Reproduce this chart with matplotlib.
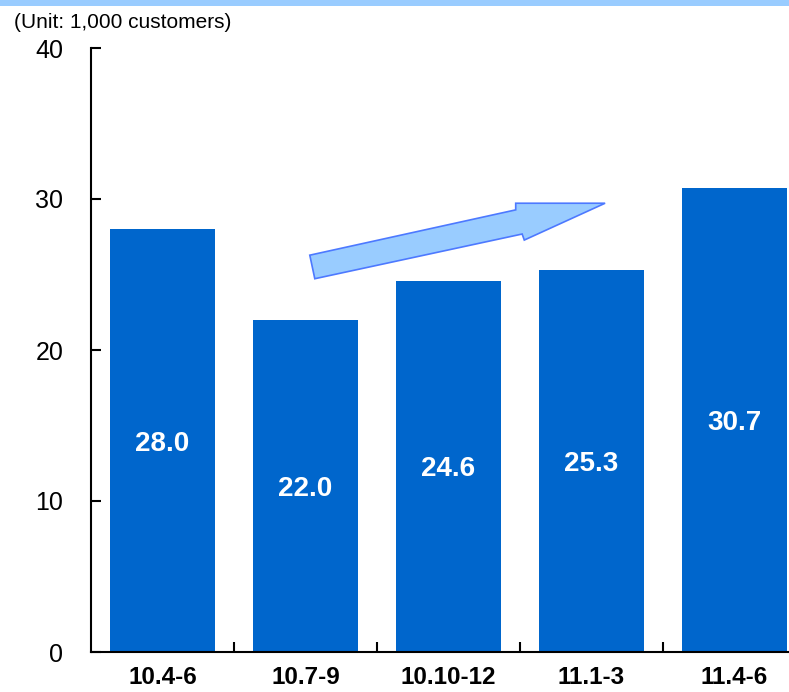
import matplotlib
matplotlib.use("Agg")
import matplotlib.pyplot as plt
from matplotlib.patches import Polygon, Rectangle

plt.rcParams["font.family"] = ["Liberation Sans", "DejaVu Sans"]

# Quarterly new customers (thousands)
quarters = ["10.4-6", "10.7-9", "10.10-12", "11.1-3", "11.4-6"]
customers = [28.0, 22.0, 24.6, 25.3, 30.7]
y_ticks = [0, 10, 20, 30, 40]

BAR_BLUE = "#0066CC"
LIGHT_BLUE = "#99CCFF"

fig = plt.figure(figsize=(7.89, 6.92), dpi=100)

# light header strip along the top edge
fig.patches.append(Rectangle((0, 1 - 6 / 692), 1, 6 / 692, transform=fig.transFigure,
                             facecolor=LIGHT_BLUE, edgecolor="none"))

ax = fig.add_axes([91 / 789, 40 / 692, 715 / 789, 604 / 692])
x = list(range(len(quarters)))
ax.bar(x, customers, width=0.73, color=BAR_BLUE)

for xi, v in zip(x, customers):
    ax.text(xi, v / 2, f"{v:.1f}", ha="center", va="center_baseline",
            color="white", fontsize=20, fontweight="bold")

ax.set_xlim(-0.5, len(quarters) - 0.5)
ax.set_ylim(0, 40)
ax.set_yticks(y_ticks)
ax.tick_params(axis="y", direction="in", length=7, width=1.5, pad=20, labelsize=18)

# category labels at bar centres, tick marks between categories
ax.set_xticks(x)
ax.set_xticklabels(quarters, fontsize=17.5, fontweight="bold")
ax.tick_params(axis="x", which="major", length=0, pad=10)
ax.set_xticks([i + 0.5 for i in x[:-1]], minor=True)
ax.tick_params(axis="x", which="minor", direction="in", length=7, width=1.5)

for side in ("top", "right"):
    ax.spines[side].set_visible(False)
for side in ("left", "bottom"):
    ax.spines[side].set_linewidth(1.5)

# upward trend arrow (axes fraction)
arrow_pts = [(0.306, 0.657), (0.594, 0.732), (0.594, 0.743), (0.719, 0.743),
             (0.606, 0.682), (0.603, 0.692), (0.313, 0.618)]
ax.add_patch(Polygon(arrow_pts, closed=True, transform=ax.transAxes,
                     facecolor=LIGHT_BLUE, edgecolor="#4D79FF", linewidth=1.2,
                     clip_on=False))

fig.text(14 / 789, 1 - 22 / 692, "(Unit: 1,000 customers)", fontsize=15,
         ha="left", va="center")

fig.savefig("out.png", dpi=100)
